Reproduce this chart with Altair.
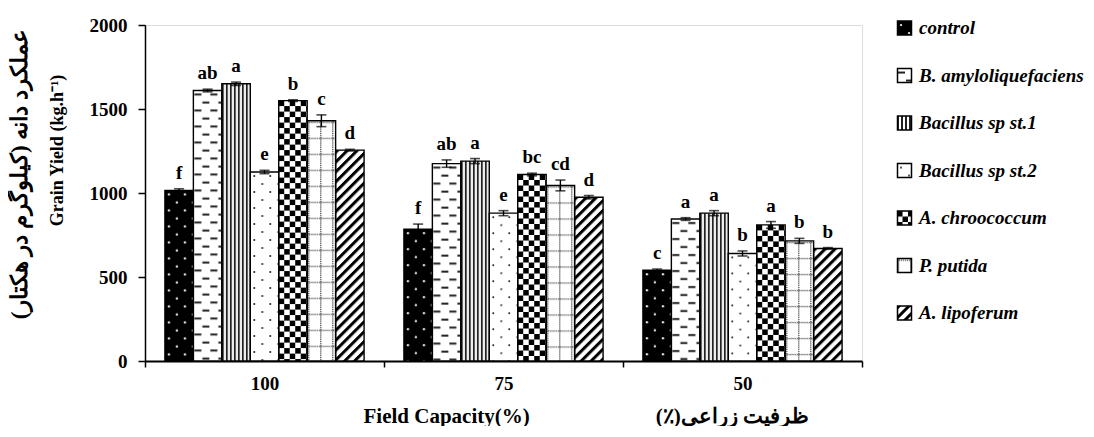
import base64
import altair as alt
import pandas as pd

# ---------------- data ----------------
groups = ["100", "75", "50"]
treatments = ["control", "B. amyloliquefaciens", "Bacillus sp st.1", "Bacillus sp st.2",
              "A. chroococcum", "P. putida", "A. lipoferum"]

yield_100 = [1015, 1610, 1650, 1125, 1550, 1430, 1255]
yield_75 = [785, 1175, 1190, 880, 1110, 1045, 975]
yield_50 = [540, 845, 880, 640, 810, 715, 670]

err_100 = [10, 8, 10, 10, 5, 35, 5]
err_75 = [30, 22, 15, 15, 8, 32, 10]
err_50 = [8, 8, 15, 15, 20, 15, 5]

letters_100 = ["f", "ab", "a", "e", "b", "c", "d"]
letters_75 = ["f", "ab", "a", "e", "bc", "cd", "d"]
letters_50 = ["c", "a", "a", "b", "a", "b", "b"]

y_ticks = [0, 500, 1000, 1500, 2000]

# ---------------- pattern fills (style) ----------------
def svg_uri(body, w, h, bg, extra=""):
    svg = ('<svg xmlns="http://www.w3.org/2000/svg" width="100%" height="100%">'
           f'<defs><pattern id="p" patternUnits="userSpaceOnUse" width="{w}" height="{h}" {extra}>'
           f'<rect x="0" y="0" width="{w}" height="{h}" fill="{bg}"/>{body}</pattern></defs>'
           '<rect x="0" y="0" width="100%" height="100%" fill="url(#p)"/></svg>')
    return "data:image/svg+xml;base64," + base64.b64encode(svg.encode("utf-8")).decode("ascii")

putida_dots = "".join(f'<rect x="1" y="{i}" width="1.2" height="1.2" fill="#444"/>' for i in range(0, 16, 2)) + \
              "".join(f'<rect x="{i}" y="1" width="1.2" height="1.2" fill="#444"/>' for i in range(0, 12, 2))

patterns = {
    "control": svg_uri('<circle cx="4" cy="4" r="1.1" fill="white"/><circle cx="12" cy="12" r="1.1" fill="white"/>', 16, 16, "black"),
    "B. amyloliquefaciens": svg_uri('<rect x="1" y="3" width="7" height="2" fill="#222"/><rect x="9" y="11" width="7" height="2" fill="#222"/>', 16, 16, "white"),
    "Bacillus sp st.1": svg_uri('<rect x="0" y="0" width="2" height="4" fill="#222"/>', 4, 4, "white"),
    "Bacillus sp st.2": svg_uri('<circle cx="4" cy="4" r="1" fill="#222"/><circle cx="12" cy="12" r="1" fill="#222"/>', 16, 16, "white"),
    "A. chroococcum": svg_uri('<rect x="0" y="0" width="5.5" height="5.5" fill="black"/><rect x="5.5" y="5.5" width="5.5" height="5.5" fill="black"/>', 11, 11, "white"),
    "P. putida": svg_uri(putida_dots, 12, 16, "white"),
    "A. lipoferum": svg_uri('<rect x="0" y="0" width="3" height="7" fill="black"/>', 7, 7, "white", 'patternTransform="rotate(45)"'),
}
fallback = ["#222222", "#dddddd", "#777777", "#f2f2f2", "#888888", "#dddddd", "#999999"]

rows = []
for g, ys, es, ls in zip(groups, [yield_100, yield_75, yield_50], [err_100, err_75, err_50],
                         [letters_100, letters_75, letters_50]):
    for t, y, e, l in zip(treatments, ys, es, ls):
        rows.append({"fc": g, "treatment": t, "yield": y, "lo": y - e, "hi": y + e,
                     "letter": l, "pattern": patterns[t]})
df = pd.DataFrame(rows)
legend_df = pd.DataFrame({"treatment": treatments, "pattern": [patterns[t] for t in treatments]})

FONT = "Liberation Serif"
persian_y = "\u200fعملکرد دانه (کیلوگرم در هکتار)\u200f"
persian_x = "\u200fظرفیت زراعی(٪)\u200f"

yaxis = alt.Axis(values=y_ticks, format="d", grid=False, tickSize=7, tickWidth=1.5, tickColor="black",
                 domainColor="black", domainWidth=1.5, labelFont=FONT, labelFontSize=19,
                 labelFontWeight="bold", labelColor="black", labelPadding=11,
                 title="Grain Yield (kg.h⁻¹)", titleFont=FONT, titleFontSize=18,
                 titleFontWeight="bold", titleColor="black", titlePadding=23, titleY=125)
yscale = alt.Scale(domain=[0, 2000], nice=False)


def yenc(field):
    return alt.Y(field, type="quantitative", scale=yscale, axis=yaxis)


xaxis = alt.Axis(labelAngle=0, tickBand="extent", tickSize=6, tickWidth=1.5, tickColor="black",
                 domainColor="black", domainWidth=2, labelFont=FONT, labelFontSize=19,
                 labelFontWeight="bold", labelColor="black", labelPadding=7,
                 title="Field Capacity(%)" + "\u2003" * 6 + persian_x, titleFont=FONT,
                 titleFontSize=21, titleFontWeight="bold", titleColor="black",
                 titleAnchor="start", titleAlign="left", titleX=218, titlePadding=12)

base = alt.Chart(df).encode(
    x=alt.X("fc:N", sort=groups, scale=alt.Scale(paddingInner=0, paddingOuter=0), axis=xaxis),
    xOffset=alt.XOffset("treatment:N", sort=treatments,
                        scale=alt.Scale(paddingInner=0, paddingOuter=0.7)),
)

under = base.mark_bar().encode(
    y=yenc("yield"),
    color=alt.Color("treatment:N", sort=treatments, scale=alt.Scale(domain=treatments, range=fallback), legend=None),
)
fill = base.mark_image(aspect=False).encode(y=yenc("yield"), y2=alt.datum(0), url="pattern:N")
outline = base.mark_bar(fillOpacity=0, stroke="black", strokeWidth=1.4).encode(y=yenc("yield"))
err = base.mark_rule(color="black", strokeWidth=1.4).encode(y=yenc("lo"), y2="hi:Q")
cap_hi = base.mark_tick(color="black", thickness=1.6, size=10).encode(y=yenc("hi"))
cap_lo = base.mark_tick(color="black", thickness=1.6, size=10).encode(y=yenc("lo"))
labels = base.mark_text(dy=-10, baseline="alphabetic", font=FONT, fontSize=19, fontWeight="bold",
                        color="black").encode(y=yenc("hi"), text="letter:N")

main = alt.layer(under, fill, outline, err, cap_hi, cap_lo, labels)

ly = alt.Y("treatment:N", sort=treatments, axis=None,
           scale=alt.Scale(type="point", padding=0.537, align=0.06))
leg_base = alt.Chart(legend_df)
leg_sw = leg_base.mark_image(aspect=False, height=14).encode(
    x=alt.value(752), x2=alt.value(767), y=ly, url="pattern:N")
leg_box = leg_base.mark_point(shape="square", size=196, filled=False, stroke="black",
                              strokeWidth=1.5, opacity=1).encode(x=alt.value(759.5), y=ly)
leg_txt = leg_base.mark_text(align="left", baseline="middle", font=FONT, fontStyle="italic",
                             fontWeight="bold", fontSize=19, color="black").encode(
    x=alt.value(774), y=ly, text="treatment:N")
legend = alt.layer(leg_sw, leg_box, leg_txt)

chart = alt.layer(main, legend).resolve_scale(y="independent").properties(
    width=717, height=336,
    title=alt.TitleParams(text=persian_y, orient="left", anchor="middle", font=FONT, fontSize=23,
                          fontWeight="bold", color="black", offset=16, dx=19),
    padding={"left": 1, "top": 8, "right": 0, "bottom": 0},
).configure_view(stroke=None).configure(background="white")

chart.save("out.html", embed_options={"renderer": "svg", "actions": False})
